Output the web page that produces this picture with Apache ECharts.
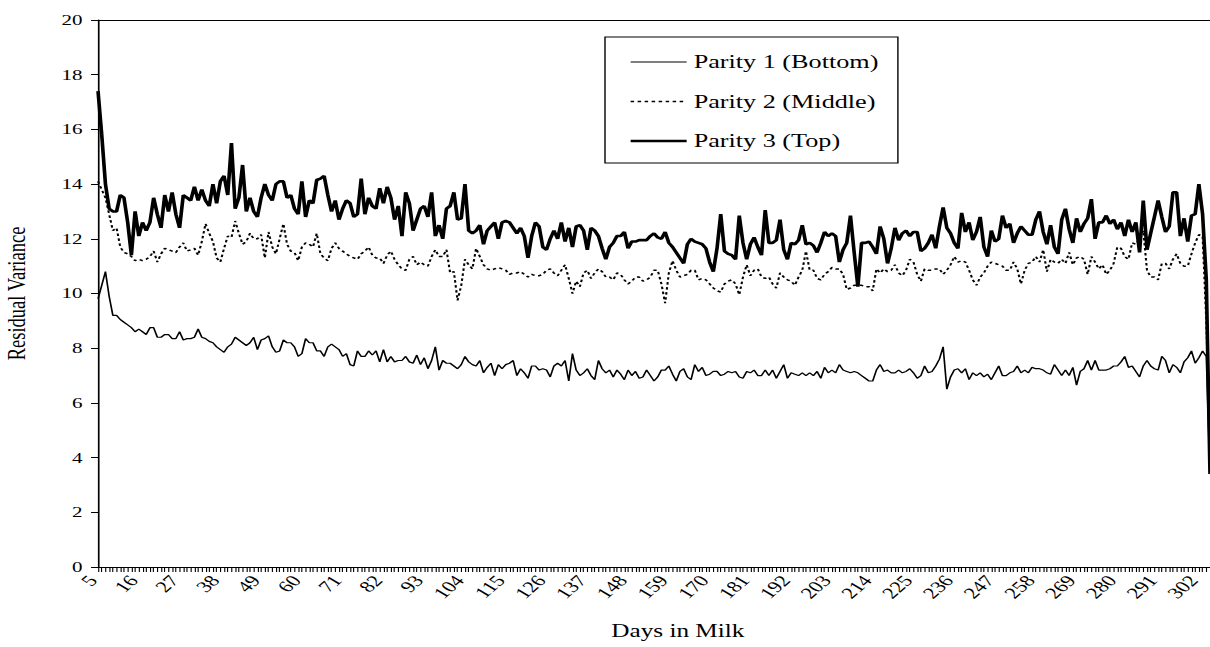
<!DOCTYPE html>
<html>
<head>
<meta charset="utf-8">
<script src="https://cdn.jsdelivr.net/npm/echarts@6/dist/echarts.min.js"></script>
<style>
html,body{margin:0;padding:0;background:#fff;}
#wrap{width:1210px;height:647px;overflow:hidden;background:#fff;}
#chart{width:864px;height:647px;transform:scaleX(1.40046);transform-origin:0 0;}
</style>
</head>
<body>
<div id="wrap"><div id="chart"></div></div>
<script>
// Days in milk 5..305
var days = [];
for (var d = 5; d <= 305; d++) days.push(String(d));

var parity1 = [
9.8,10.3,10.8,9.9,9.2,9.2,9.05,8.95,8.85,8.75,
8.6,8.7,8.6,8.5,8.75,8.75,8.4,8.4,8.5,8.5,
8.35,8.35,8.6,8.3,8.35,8.35,8.4,8.7,8.4,8.35,
8.25,8.2,8.05,7.95,7.85,8.05,8.15,8.4,8.3,8.2,
8.1,8.2,8.4,7.95,8.3,8.35,8.45,8.05,7.85,7.9,
8.3,8.2,8.2,8.05,7.7,7.8,8.35,8.2,8.2,7.9,
7.9,7.7,8.05,8.15,8.05,7.95,7.7,7.8,7.4,7.35,
7.9,7.7,7.7,7.9,7.75,7.9,7.5,7.95,7.5,7.7,
7.5,7.55,7.55,7.7,7.5,7.45,7.75,7.4,7.65,7.25,
7.55,8.05,7.2,7.55,7.45,7.45,7.35,7.25,7.4,7.7,
7.5,7.4,7.35,7.55,7.1,7.3,7.45,7.0,7.4,7.25,
7.4,7.45,7.55,7.0,7.25,7.1,6.9,7.35,7.35,7.2,
7.25,7.2,6.95,7.35,7.45,7.35,7.55,6.8,7.8,7.2,
7.0,7.1,7.25,7.0,6.85,7.55,7.25,7.1,7.2,6.95,
7.2,7.05,6.85,7.2,7.0,7.15,6.9,6.95,7.2,7.0,
6.8,6.95,7.2,7.2,7.35,7.05,6.8,7.15,7.25,6.95,
6.85,7.4,7.15,7.3,7.0,7.05,7.15,7.15,7.0,7.05,
7.15,7.1,7.15,6.95,6.9,7.15,7.1,7.2,7.0,7.0,
7.2,7.0,7.2,6.9,7.15,7.4,6.9,7.1,7.05,7.0,
7.1,7.0,7.1,7.0,7.15,6.9,7.3,7.1,7.2,7.1,
7.4,7.2,7.15,7.1,7.15,7.1,7.0,6.9,6.8,6.8,
7.2,7.4,7.15,7.2,7.1,7.1,7.2,7.1,7.15,7.25,
7.1,6.9,7.0,7.35,7.1,7.15,7.35,7.6,8.05,6.5,
6.95,7.2,7.25,7.1,7.25,6.85,7.1,7.0,7.1,6.95,
7.05,6.85,7.1,7.35,7.0,7.0,7.1,7.15,7.35,7.1,
7.2,7.1,7.3,7.25,7.25,7.2,7.1,7.05,7.4,7.2,
7.0,7.2,7.0,7.3,6.65,7.15,7.25,7.55,7.2,7.55,
7.2,7.2,7.2,7.25,7.35,7.35,7.5,7.7,7.3,7.35,
7.15,6.95,7.35,7.55,7.35,7.25,7.2,7.7,7.55,7.1,
7.4,7.3,7.1,7.5,7.65,7.9,7.45,7.65,7.9,7.7,
3.5
];

var parity2 = [
14.1,13.8,13.5,12.9,12.3,12.4,11.7,11.5,11.45,11.35,
11.2,11.25,11.2,11.25,11.35,11.55,11.15,11.45,11.65,11.6,
11.55,11.5,11.7,11.85,11.55,11.6,11.65,11.4,11.9,12.55,
12.2,11.9,11.3,11.15,11.65,12.1,12.05,12.65,12.2,11.8,
11.9,12.2,12.0,12.0,12.15,11.3,12.25,11.7,11.45,12.0,
12.55,11.8,11.55,11.5,11.2,11.7,11.85,11.8,11.7,12.2,
11.45,11.3,11.2,11.65,11.85,11.65,11.55,11.45,11.35,11.3,
11.25,11.45,11.55,11.7,11.4,11.3,11.3,11.1,11.4,11.55,
11.25,11.05,10.9,10.85,11.25,11.35,11.05,11.15,11.05,11.0,
11.35,11.6,11.35,11.35,11.6,10.75,10.8,9.75,10.3,11.25,
11.05,10.9,11.65,11.35,11.05,10.9,10.85,10.9,10.95,10.9,
10.85,10.7,10.75,10.75,10.8,10.7,10.6,10.7,10.65,10.65,
10.7,10.85,10.9,10.75,10.65,10.85,11.05,10.55,10.0,10.45,
10.25,10.75,10.85,10.55,10.75,10.9,10.8,10.6,10.6,10.5,
10.75,10.7,10.5,10.35,10.45,10.6,10.6,10.45,10.5,10.6,
10.85,10.85,10.35,9.65,10.75,11.2,10.85,10.6,10.65,10.7,
10.85,10.85,10.5,10.55,10.5,10.35,10.2,10.1,10.05,10.35,
10.45,10.5,10.35,9.95,10.6,11.05,10.65,10.85,10.9,10.6,
10.55,10.6,10.35,10.2,10.75,10.6,10.5,10.45,10.3,10.6,
10.85,11.55,10.85,10.85,10.55,10.5,10.7,10.8,10.95,10.9,
10.9,10.7,10.15,10.2,10.3,10.3,10.3,10.25,10.25,10.1,
10.9,10.75,10.9,10.8,10.85,11.05,10.75,10.65,10.85,11.25,
11.15,10.7,10.45,10.9,10.85,10.85,10.9,10.9,10.7,10.85,
11.05,11.35,11.15,11.2,11.15,10.85,10.5,10.3,10.6,10.75,
11.0,11.15,11.1,11.05,11.0,10.85,10.85,11.15,10.9,10.35,
10.85,11.1,11.15,11.35,11.15,11.6,10.8,11.25,11.15,11.1,
11.25,11.1,11.5,11.05,11.3,11.35,11.25,10.7,11.35,11.15,
10.9,11.05,10.7,10.85,11.1,11.7,11.65,11.35,11.25,11.85,
11.8,12.0,12.3,10.85,10.6,10.6,10.5,11.1,11.1,10.9,
11.25,11.45,11.1,11.0,11.0,11.45,11.85,12.15,12.1,9.0,
4.5
];

var parity3 = [
17.4,15.8,14.0,13.1,13.0,13.0,13.6,13.5,12.6,11.4,
13.0,12.1,12.6,12.3,12.6,13.5,12.9,12.4,13.6,13.0,
13.7,12.9,12.4,13.6,13.5,13.4,13.9,13.4,13.8,13.4,
13.2,14.0,13.3,14.1,14.3,13.6,15.5,13.1,13.5,14.7,
13.0,13.5,13.0,12.8,13.5,14.0,13.6,13.4,14.0,14.1,
14.1,13.5,13.6,13.1,12.9,14.1,12.8,13.4,13.3,14.15,
14.2,14.3,13.6,13.0,13.4,12.7,13.1,13.4,13.3,12.8,
12.9,14.2,12.9,13.5,13.2,13.1,13.85,13.3,13.9,13.5,
12.7,13.2,12.1,13.7,13.3,12.3,12.7,13.1,13.2,12.8,
13.7,12.1,12.5,12.0,13.1,13.2,13.7,12.7,12.75,14.0,
12.3,12.2,12.3,12.5,11.8,12.3,12.45,12.6,12.0,12.6,
12.65,12.6,12.4,12.2,12.4,12.1,11.3,12.1,12.6,12.45,
11.7,11.6,12.0,12.3,12.0,12.6,11.9,12.4,11.7,12.45,
12.5,12.3,11.6,12.4,12.3,12.1,11.65,11.25,11.7,11.85,
12.1,12.1,12.25,11.65,11.9,11.9,11.95,11.95,11.95,12.1,
12.2,12.05,12.0,12.25,11.85,11.7,11.5,11.3,11.1,11.8,
12.0,11.9,11.85,11.8,11.65,11.15,10.8,11.65,12.9,11.55,
11.45,11.4,11.25,12.85,11.85,11.25,11.8,12.05,11.7,11.4,
13.05,11.85,11.85,11.95,12.7,11.6,11.25,11.85,11.8,11.95,
12.5,11.8,11.85,11.75,11.5,11.85,12.25,12.1,12.2,12.1,
11.15,11.6,11.85,12.85,11.5,10.25,11.85,11.85,11.9,11.7,
11.45,12.45,12.0,11.1,11.65,12.4,11.95,12.2,12.3,12.1,
12.25,12.25,11.55,11.65,11.85,12.15,11.65,12.45,13.15,12.4,
12.2,11.85,11.65,12.95,12.25,12.6,11.95,12.25,12.8,11.7,
11.35,12.3,11.9,12.0,12.85,12.4,12.55,11.85,12.2,12.45,
12.3,12.15,12.15,12.7,13.0,12.25,11.8,12.5,11.7,11.45,
12.7,13.1,12.35,11.85,12.75,12.25,12.55,12.75,13.45,12.0,
12.6,12.6,12.85,12.55,12.7,12.35,12.6,12.1,12.7,12.25,
12.6,11.5,13.4,11.6,12.2,12.8,13.4,12.8,12.25,12.45,
13.7,13.7,12.1,12.75,11.9,12.85,12.9,14.0,12.9,10.5,
3.4
];

var yTicks = {min: 0, max: 20, interval: 2};
var FONT = '"Liberation Serif", "Times New Roman", serif';
var names = ['Parity 1 (Bottom)', 'Parity 2 (Middle)', 'Parity 3 (Top)'];
var styles = [
  {color: '#000', width: 1.2, type: 'solid'},
  {color: '#000', width: 1.5, type: [2.5, 2.5]},
  {color: '#000', width: 2.6, type: 'solid'}
];

var chart = echarts.init(document.getElementById('chart'), null, {renderer: 'svg'});
chart.setOption({
  animation: false,
  backgroundColor: '#ffffff',
  grid: {left: 70, right: 0, top: 20, bottom: 80, containLabel: false, outerBoundsMode: 'none'},
  legend: {
    orient: 'vertical', left: 432, top: 37,
    borderColor: '#000', borderWidth: 1,
    padding: [15, 14, 12, 17],
    itemWidth: 40, itemHeight: 14, itemGap: 19.5,
    itemStyle: {opacity: 0, color: 'rgba(0,0,0,0)', borderWidth: 0},
    textStyle: {fontFamily: FONT, fontSize: 18.7, lineHeight: 20, color: '#000'},
    data: names.map(function (n, i) {
      return {name: n, lineStyle: styles[i], itemStyle: {opacity: 0, color: 'rgba(0,0,0,0)', borderWidth: 0}};
    })
  },
  xAxis: [{
    type: 'category', data: days, boundaryGap: false,
    name: 'Days in Milk', nameLocation: 'middle', nameGap: 55,
    nameTextStyle: {fontFamily: FONT, fontSize: 18, color: '#000', padding: [0, 0, 0, 34]},
    axisLine: {lineStyle: {color: '#000', width: 1}},
    axisTick: {show: true, interval: 0, length: 5, lineStyle: {color: '#000', width: 0.8}},
    axisLabel: {interval: 10, rotate: 50, fontFamily: FONT, fontSize: 16, color: '#000', margin: 6, padding: [0, 6, 0, 0]},
    splitLine: {show: false}
  }, {
    type: 'category', data: days, boundaryGap: false, position: 'top',
    axisLine: {show: true, lineStyle: {color: '#000', width: 1}},
    axisTick: {show: false}, axisLabel: {show: false}, splitLine: {show: false}
  }],
  yAxis: {
    type: 'value', min: yTicks.min, max: yTicks.max, interval: yTicks.interval,
    name: 'Residual Variance', nameLocation: 'middle', nameGap: 49, nameRotate: 90,
    nameTextStyle: {fontFamily: FONT, fontSize: 18.5, color: '#000'},
    axisLine: {show: true, lineStyle: {color: '#000', width: 1.2}},
    axisTick: {show: true, length: 5, lineStyle: {color: '#000'}},
    axisLabel: {fontFamily: FONT, fontSize: 15, color: '#000', margin: 11},
    splitLine: {show: false}
  },
  series: [
    {name: names[0], type: 'line', data: parity1, symbol: 'none', lineStyle: styles[0], itemStyle: {color: '#000'}},
    {name: names[1], type: 'line', data: parity2, symbol: 'none', lineStyle: styles[1], itemStyle: {color: '#000'}},
    {name: names[2], type: 'line', data: parity3, symbol: 'none', lineStyle: styles[2], itemStyle: {color: '#000'}}
  ]
});
</script>
</body>
</html>
